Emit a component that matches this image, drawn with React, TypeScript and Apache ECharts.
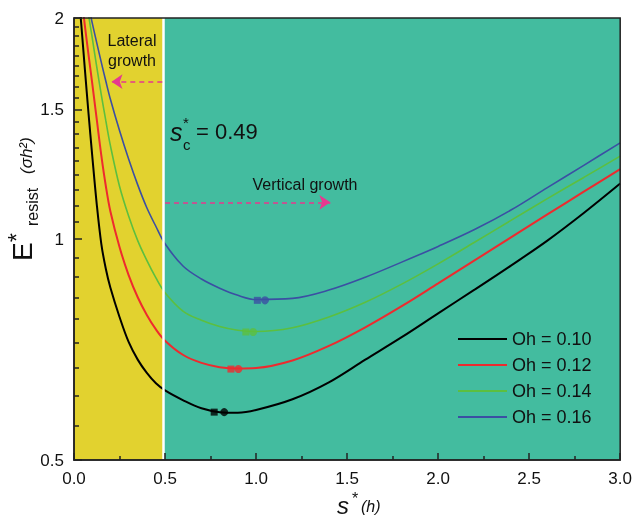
import React, { useEffect, useRef } from 'react';
import * as echarts from 'echarts';

// s* values (h) where curves are sampled
const S = [0.02, 0.04, 0.06, 0.08, 0.1, 0.125, 0.15, 0.175, 0.2, 0.25, 0.3, 0.35, 0.4, 0.45, 0.5, 0.6, 0.7, 0.8, 0.9, 1.0, 1.2, 1.4, 1.6, 1.8, 2.0, 2.2, 2.4, 2.6, 2.8, 3.0];
// E*_resist (σh²) for each Oh
const OH_010 = [2.25, 1.96, 1.7, 1.48, 1.3, 1.115, 0.985, 0.91, 0.858, 0.783, 0.724, 0.685, 0.657, 0.636, 0.622, 0.603, 0.588, 0.581, 0.58, 0.585, 0.605, 0.638, 0.685, 0.735, 0.792, 0.853, 0.92, 0.995, 1.085, 1.19];
const OH_012 = [2.5, 2.15, 1.95, 1.78, 1.63, 1.455, 1.3, 1.18, 1.09, 0.975, 0.893, 0.833, 0.788, 0.753, 0.727, 0.695, 0.678, 0.669, 0.666, 0.667, 0.683, 0.715, 0.758, 0.81, 0.87, 0.935, 1.005, 1.08, 1.16, 1.245];
const OH_014 = [2.53, 2.35, 2.18, 2.02, 1.88, 1.716, 1.572, 1.448, 1.34, 1.18, 1.075, 0.995, 0.935, 0.885, 0.845, 0.797, 0.775, 0.76, 0.751, 0.748, 0.757, 0.783, 0.82, 0.868, 0.925, 0.99, 1.06, 1.135, 1.213, 1.297];
const OH_016 = [2.45, 2.33, 2.2, 2.08, 1.97, 1.85, 1.74, 1.64, 1.55, 1.405, 1.285, 1.185, 1.103, 1.04, 0.985, 0.918, 0.882, 0.857, 0.838, 0.827, 0.83, 0.852, 0.887, 0.93, 0.977, 1.03, 1.095, 1.175, 1.26, 1.352];

const SERIES_NAMES = ['Oh = 0.10', 'Oh = 0.12', 'Oh = 0.14', 'Oh = 0.16'];
const SERIES_COLORS = ['#000000', '#ee2a2e', '#5cbf3f', '#3b4fa3'];
const SERIES_WIDTHS = [2, 2, 1.6, 1.6];

// minimum markers (square, circle) per curve
const MIN_S_SQUARE = [0.77, 0.862, 0.944, 1.007];
const MIN_S_CIRCLE = [0.825, 0.903, 0.984, 1.049];
const MIN_E = [0.581, 0.665, 0.747, 0.825];

const SC = 0.49; // critical spacing
const X_TICKS_INTERVAL = 0.5;
const Y_MAJOR = [0.5, 1, 1.5, 2];
const Y_MINOR = [0.556, 0.611, 0.667, 0.722, 0.778, 0.833, 0.889, 0.944, 1.056, 1.111, 1.167, 1.222, 1.278, 1.333, 1.389, 1.444, 1.556, 1.611, 1.667, 1.722, 1.778, 1.833, 1.889, 1.944];

const FONT = '"Liberation Sans", Arial, sans-serif';
const AXIS_COLOR = '#222222';
const PINK = '#e6388f';

function buildOption() {
  const curveData = [OH_010, OH_012, OH_014, OH_016];
  const lines = curveData.map((vals, i) => ({
    type: 'line',
    name: SERIES_NAMES[i],
    data: S.map((s, j) => [s, vals[j]]),
    smooth: 0.35,
    symbol: 'none',
    clip: true,
    lineStyle: { color: SERIES_COLORS[i], width: SERIES_WIDTHS[i] },
    itemStyle: { color: SERIES_COLORS[i] },
    z: 3,
  }));
  const markers = MIN_E.map((e, i) => ({
    type: 'scatter',
    name: 'min' + i,
    data: [
      { value: [MIN_S_SQUARE[i], e], symbol: 'rect', symbolSize: 7 },
      { value: [MIN_S_CIRCLE[i], e], symbol: 'circle', symbolSize: 8 },
    ],
    itemStyle: { color: SERIES_COLORS[i] },
    z: 4,
  }));
  const text = (t: string, x: number, y: number, size: number, extra: any = {}) => ({
    type: 'text',
    x,
    y,
    style: {
      text: t,
      fill: '#111111',
      fontSize: size,
      fontFamily: FONT,
      textAlign: extra.align || 'left',
      align: extra.align || 'left',
      textVerticalAlign: 'middle',
      verticalAlign: 'middle',
      fontStyle: extra.italic ? 'italic' : 'normal',
    },
    z: 10,
  });
  return {
    animation: false,
    textStyle: { fontFamily: FONT },
    grid: { left: 74, right: 13, top: 18, bottom: 57, show: true, borderColor: AXIS_COLOR, borderWidth: 1.5, backgroundColor: 'transparent', z: 10 },
    legend: {
      data: SERIES_NAMES,
      orient: 'vertical',
      left: 452,
      top: 325,
      itemWidth: 49,
      itemHeight: 14,
      itemGap: 8,
      itemStyle: { opacity: 0 },
      textStyle: { fontSize: 18, color: '#111', fontFamily: FONT },
    },
    xAxis: {
      type: 'value',
      min: 0,
      max: 3,
      interval: X_TICKS_INTERVAL,
      z: 10,
      axisLine: { lineStyle: { color: AXIS_COLOR, width: 1.5 } },
      axisTick: { inside: true, length: 7, lineStyle: { color: AXIS_COLOR, width: 1.5 } },
      minorTick: { show: true, splitNumber: 2, length: 4, lineStyle: { color: AXIS_COLOR, width: 1.5 } },
      splitLine: { show: false },
      axisLabel: { fontSize: 17, color: '#111', margin: 10, formatter: (v: number) => v.toFixed(1) },
    },
    yAxis: [
      {
        type: 'log',
        min: 0.5,
        max: 2,
        z: 10,
        axisLine: { show: true, lineStyle: { color: AXIS_COLOR, width: 1.5 } },
        axisTick: { show: true, inside: true, length: 8, customValues: Y_MAJOR, lineStyle: { color: AXIS_COLOR, width: 1.5 } },
        axisLabel: { fontSize: 17, color: '#111', margin: 10, customValues: Y_MAJOR, formatter: (v: number) => String(Math.round(v * 10) / 10) },
        splitLine: { show: false },
      },
      {
        type: 'log',
        min: 0.5,
        max: 2,
        z: 10,
        position: 'left',
        axisLine: { show: false },
        axisTick: { show: true, inside: true, length: 5, customValues: Y_MINOR, lineStyle: { color: AXIS_COLOR, width: 1.5 } },
        axisLabel: { show: false },
        splitLine: { show: false },
      },
    ],
    series: [
      {
        type: 'line',
        name: 'regions',
        data: [],
        silent: true,
        z: 1,
        markArea: {
          silent: true,
          data: [
            [{ xAxis: 0, itemStyle: { color: '#e2d22f' } }, { xAxis: SC }],
            [{ xAxis: SC, itemStyle: { color: '#43bc9f' } }, { xAxis: 3 }],
          ],
        },
        markLine: {
          silent: true,
          symbol: 'none',
          label: { show: false },
          lineStyle: { color: '#ffffff', width: 2.5, type: 'solid' },
          data: [{ xAxis: SC }],
        },
      },
      ...lines,
      ...markers,
      {
        type: 'line',
        name: 'arrows',
        data: [],
        silent: true,
        z: 5,
        markLine: {
          silent: true,
          symbol: ['none', 'arrow'],
          symbolSize: 11,
          label: { show: false },
          lineStyle: { color: PINK, width: 1.5, type: [5, 4] },
          data: [
            [{ coord: [0.485, 1.638] }, { coord: [0.206, 1.638] }],
            [{ coord: [0.5, 1.122] }, { coord: [1.408, 1.122] }],
          ],
        },
      },
    ],
    graphic: [
      text('Lateral', 132, 40, 16, { align: 'center' }),
      text('growth', 132, 60, 16, { align: 'center' }),
      text('Vertical growth', 305, 184, 16, { align: 'center' }),
      text('s', 170, 132, 25, { italic: true }),
      text('*', 183, 122, 15),
      text('c', 183, 144, 15),
      text('= 0.49', 196, 131, 22),
      text('s', 337, 505, 24, { italic: true }),
      text('*', 352, 498, 16),
      text('(h)', 361, 506, 16, { italic: true }),
      {
        type: 'group',
        x: 33,
        y: 262,
        rotation: Math.PI / 2,
        children: [
          text('E', 1, -11, 28),
          text('*', 20, -16, 23),
          text('resist', 36, -1, 16),
          text('(σh²)', 88, -7, 17, { italic: true }),
        ],
      },
    ],
  };
}

export default function App() {
  const ref = useRef<HTMLDivElement>(null);
  useEffect(() => {
    const chart = echarts.init(ref.current!, null, { renderer: 'svg' });
    chart.setOption(buildOption() as any);
    return () => chart.dispose();
  }, []);
  return <div ref={ref} style={{ position: 'fixed', left: 0, top: 0, width: 635, height: 517 }} />;
}
